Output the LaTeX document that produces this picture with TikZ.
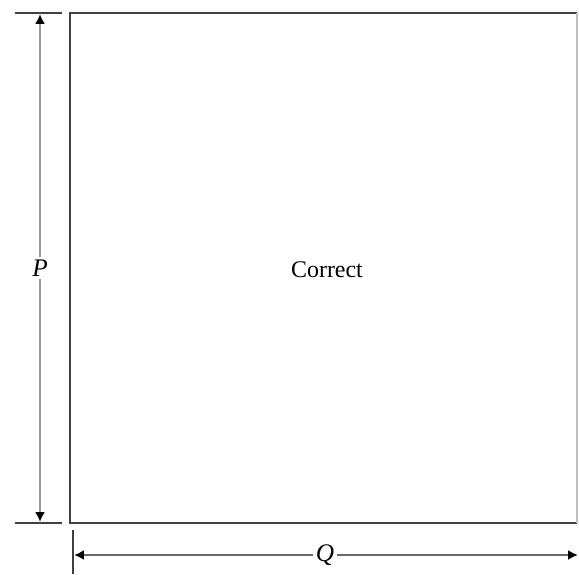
\documentclass[tikz,border=0pt]{standalone}
\usepackage{fontspec}
\setmainfont{Liberation Serif}
\usepackage{tikz}
\usetikzlibrary{arrows.meta, positioning}
\tikzset{
  edge/.style={draw=black!75, line width=1.4pt},
  tick/.style={draw=black!75, line width=1.2pt},
  dim/.style={{Latex[length=7pt,width=7pt,color=black]}-{Latex[length=7pt,width=7pt,color=black]},
              draw=black!40, line width=2pt},
  dimlabel/.style={fill=white, inner sep=2pt, font=\fontsize{18}{21}\selectfont\itshape},
}

\begin{document}
\begin{tikzpicture}[x=0.025cm, y=-0.025cm]
  \useasboundingbox (0,0) rectangle (579,574);

  % the square
  \coordinate (TL) at (70,13);
  \coordinate (TR) at (577,13);
  \coordinate (BL) at (70,523);
  \coordinate (BR) at (577,523);
  \draw[edge] (TR) -- (TL) -- (BL) -- (BR);
  \draw[draw=black!25, line width=0.8pt] (TR) -- (BR);
  \node[font=\fontsize{17}{20}\selectfont] (C) at (327,270) {Correct};

  % extension ticks
  \coordinate (t1) at (15,13);
  \coordinate (t2) at (62,13);
  \coordinate (b1) at (15,523);
  \coordinate (b2) at (62,523);
  \coordinate (v1) at (73,530);
  \coordinate (v2) at (73,574);
  \draw[tick] (t1) -- (t2);
  \draw[tick] (b1) -- (b2);
  \draw[tick] (v1) -- (v2);

  % dimensions
  \coordinate (p1) at (40,14);
  \coordinate (p2) at (40,522);
  \coordinate (q1) at (74,555);
  \coordinate (q2) at (578,555);
  \draw[dim] (p1) -- (p2);
  \draw[dim, draw=black!60, line width=1.5pt] (q1) -- (q2);
  \node[dimlabel] (P) at (40,268) {P};
  \node[dimlabel] (Q) at (325,555) {Q};
\end{tikzpicture}
\end{document}
